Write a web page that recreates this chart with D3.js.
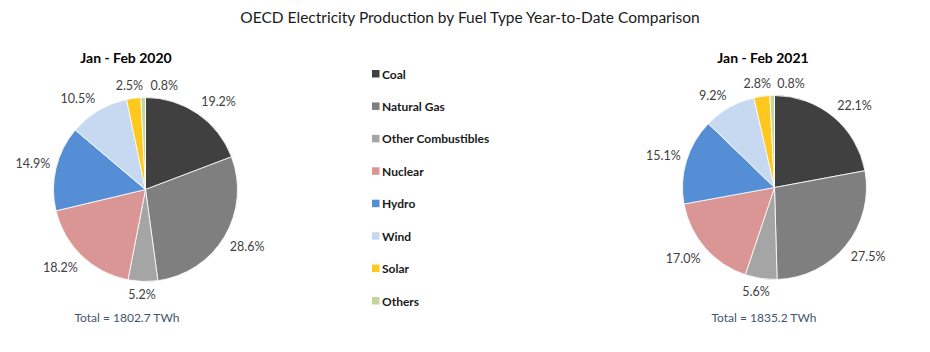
<!DOCTYPE html>
<html>
<head>
<meta charset="utf-8">
<script src="https://cdn.jsdelivr.net/npm/d3@7"></script>
<style>
  html, body { margin: 0; padding: 0; background: #fff; }
  svg { display: block; font-family: Lato, "Open Sans", sans-serif; }
</style>
</head>
<body>
<div id="chart"></div>
<script>
const categories = ["Coal", "Natural Gas", "Other Combustibles", "Nuclear", "Hydro", "Wind", "Solar", "Others"];
const fuelColors = ["#404040", "#7f7f7f", "#a5a5a5", "#da9694", "#558ed5", "#c6d9f1", "#ffc81e", "#c3d69b"];
const periods = ["Jan - Feb 2020", "Jan - Feb 2021"];
const share2020 = [19.2, 28.6, 5.2, 18.2, 14.9, 10.5, 2.5, 0.8];
const share2021 = [22.1, 27.5, 5.6, 17.0, 15.1, 9.2, 2.8, 0.8];
const totalsTWh = [1802.7, 1835.2];

const w = 930;
const h = 352;

const svg = d3.select("#chart")
  .append("svg")
  .attr("width", w)
  .attr("height", h);

svg.append("text")
  .attr("x", 470)
  .attr("y", 23)
  .attr("text-anchor", "middle")
  .style("font-size", "15.5px")
  .style("fill", "#1a1a1a")
  .text("OECD Electricity Production by Fuel Type Year-to-Date Comparison");

function clamp(v, lo, hi) {
  return Math.max(lo, Math.min(hi, v));
}

function overlaps(a, b, pad) {
  return !(a.x2 + pad < b.x1 || b.x2 + pad < a.x1 || a.y2 + pad < b.y1 || b.y2 + pad < a.y1);
}

function drawPie(values, period, total, cx, cy, r, titleX, titleY, totalY) {
  const g = svg.append("g");

  g.append("text")
    .attr("x", titleX)
    .attr("y", titleY)
    .attr("text-anchor", "middle")
    .style("font-size", "14px")
    .style("font-weight", "700")
    .style("fill", "#000")
    .text(period);

  const pie = d3.pie().sort(null).value((d) => d.value);
  const arcs = pie(values.map((v, i) => ({ value: v, name: categories[i], color: fuelColors[i] })));
  const arc = d3.arc().innerRadius(0).outerRadius(r);

  const slices = g.append("g").attr("transform", `translate(${cx},${cy})`);

  slices.selectAll("path")
    .data(arcs)
    .enter()
    .append("path")
    .attr("d", arc)
    .attr("fill", (d) => d.data.color)
    .attr("stroke", "#fff")
    .attr("stroke-width", 0.8);

  const labels = slices.selectAll("text.pct")
    .data(arcs)
    .enter()
    .append("text")
    .attr("class", "pct")
    .attr("text-anchor", "middle")
    .attr("dominant-baseline", "central")
    .style("font-size", "12.5px")
    .style("fill", "#404040")
    .text((d) => d.data.value.toFixed(1) + "%");

  // outside-end placement: box touches the circle at mid-angle, then push clockwise on collision
  const hh = 7;
  const placed = [];
  labels.each(function (d) {
    const hw = this.getComputedTextLength() / 2;
    let angle = (d.startAngle + d.endAngle) / 2;
    let box;
    for (let step = 0; step < 60; step += 1) {
      const ux = Math.sin(angle);
      const uy = -Math.cos(angle);
      const x = ux * (r + 6) + hw * clamp(ux * 2, -1, 1);
      const y = uy * (r + 6) + hh * clamp(uy * 2, -1, 1);
      box = { x, y, x1: x - hw, x2: x + hw, y1: y - hh, y2: y + hh };
      if (!placed.some((p) => overlaps(p, box, 6))) break;
      angle += Math.PI / 180;
    }
    placed.push(box);
    d3.select(this).attr("x", box.x).attr("y", box.y);
  });

  g.append("text")
    .attr("x", titleX + 1)
    .attr("y", totalY)
    .attr("text-anchor", "middle")
    .style("font-size", "12px")
    .style("fill", "#44546a")
    .text(`Total = ${total} TWh`);
}

drawPie(share2020, periods[0], totalsTWh[0], 145.5, 189.5, 92, 126, 63, 322);
drawPie(share2021, periods[1], totalsTWh[1], 774.5, 187.5, 92, 763, 63, 322);

// legend
const legend = svg.append("g").attr("transform", "translate(372,74)");
const legendY = d3.scalePoint().domain(categories).range([0, 227]);

const item = legend.selectAll("g")
  .data(categories)
  .enter()
  .append("g")
  .attr("transform", (d) => `translate(0,${legendY(d)})`);

item.append("rect")
  .attr("x", 0)
  .attr("y", -4)
  .attr("width", 7.5)
  .attr("height", 7.5)
  .attr("fill", (d, i) => fuelColors[i]);

item.append("text")
  .attr("x", 10)
  .attr("y", 0)
  .attr("dominant-baseline", "central")
  .style("font-size", "12px")
  .style("font-weight", "700")
  .style("fill", "#1a1a1a")
  .text((d) => d);
</script>
</body>
</html>
